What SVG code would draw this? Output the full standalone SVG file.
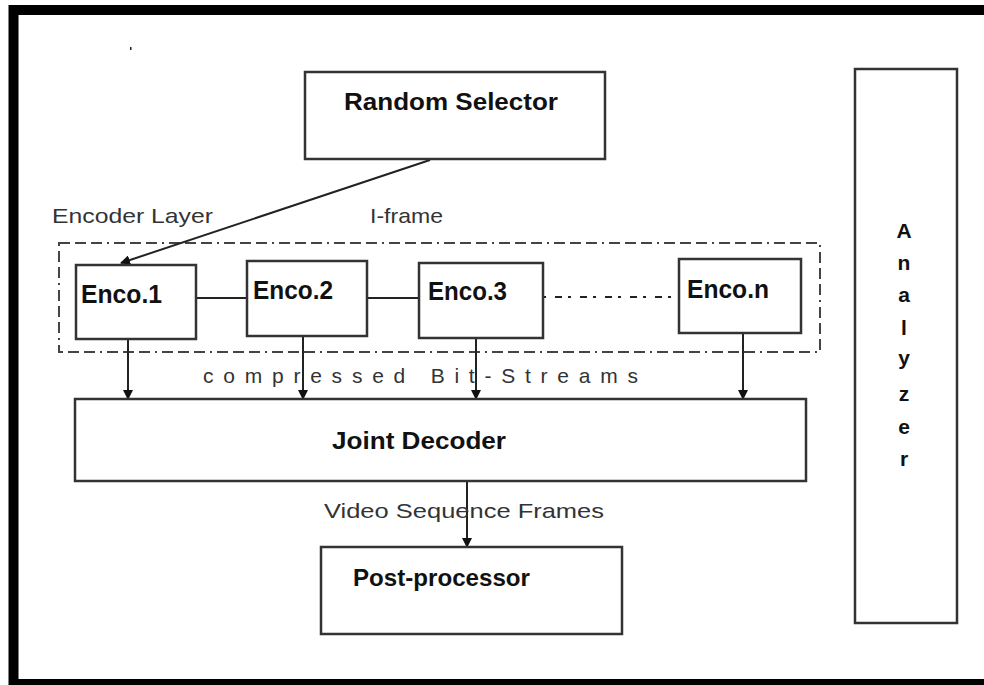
<svg xmlns="http://www.w3.org/2000/svg" width="984" height="685" viewBox="0 0 984 685">
  <style>
    .box { fill: #fff; stroke: #333; stroke-width: 2.5; }
    .line { fill: none; stroke: #222; stroke-width: 2; }
    .lbl { font-family: "Liberation Sans", Arial, sans-serif; font-size: 21px; fill: #333; }
    .bold { font-family: "Liberation Sans", Arial, sans-serif; font-weight: bold; fill: #111; }
  </style>
  <defs>
    <marker id="arrow" viewBox="0 0 10 10" refX="9" refY="5" markerWidth="5" markerHeight="5" orient="auto" markerUnits="strokeWidth">
      <path d="M0,0 L10,5 L0,10 z" fill="#111"/>
    </marker>
  </defs>

  <rect width="984" height="685" fill="#fff"/>
  <!-- outer frame, open on the right -->
  <rect x="13.5" y="10" width="1000" height="674" fill="none" stroke="#000" stroke-width="10"/>
  <rect x="130" y="47" width="1.5" height="3" fill="#222"/>

  <!-- encoder layer boundary -->
  <rect x="59" y="243" width="761" height="109" fill="none" stroke="#444" stroke-width="2" stroke-dasharray="11 5 11 5 11 5 2 5"/>

  <g id="connectors">
    <line class="line" x1="430" y1="160" x2="121" y2="263" marker-end="url(#arrow)"/>
    <line class="line" x1="196" y1="298" x2="247" y2="298"/>
    <line class="line" x1="367" y1="298" x2="419" y2="298"/>
    <line class="line" x1="543" y1="297" x2="679" y2="297" stroke-dasharray="3 9 7 6" stroke-width="2.5" stroke="#444"/>
    <line class="line" x1="128" y1="339" x2="128" y2="399" marker-end="url(#arrow)"/>
    <line class="line" x1="303" y1="336" x2="303" y2="399" marker-end="url(#arrow)"/>
    <line class="line" x1="476" y1="338" x2="476" y2="399" marker-end="url(#arrow)"/>
    <line class="line" x1="743" y1="333" x2="743" y2="399" marker-end="url(#arrow)"/>
    <line class="line" x1="467" y1="481" x2="467" y2="547" marker-end="url(#arrow)"/>
  </g>

  <g id="random-selector">
    <rect class="box" x="305" y="72" width="300" height="87"/>
    <text class="bold" x="344" y="110" font-size="24" textLength="214" lengthAdjust="spacingAndGlyphs">Random Selector</text>
  </g>

  <text class="lbl" x="52" y="223" textLength="161" lengthAdjust="spacingAndGlyphs">Encoder Layer</text>
  <text class="lbl" x="370" y="223" textLength="73" lengthAdjust="spacingAndGlyphs">I-frame</text>

  <g id="enco-1">
    <rect class="box" x="76" y="265" width="120" height="74"/>
    <text class="bold" x="81" y="303" font-size="26" textLength="81" lengthAdjust="spacingAndGlyphs">Enco.1</text>
  </g>
  <g id="enco-2">
    <rect class="box" x="247" y="261" width="120" height="75"/>
    <text class="bold" x="253" y="299" font-size="26" textLength="80" lengthAdjust="spacingAndGlyphs">Enco.2</text>
  </g>
  <g id="enco-3">
    <rect class="box" x="419" y="263" width="124" height="75"/>
    <text class="bold" x="428" y="300" font-size="26" textLength="79" lengthAdjust="spacingAndGlyphs">Enco.3</text>
  </g>
  <g id="enco-n">
    <rect class="box" x="679" y="259" width="122" height="74"/>
    <text class="bold" x="687" y="298" font-size="26" textLength="82" lengthAdjust="spacingAndGlyphs">Enco.n</text>
  </g>

  <text class="lbl" x="203" y="383" textLength="435" lengthAdjust="spacing">compressed Bit-Streams</text>

  <g id="joint-decoder">
    <rect class="box" x="75" y="399" width="731" height="82"/>
    <text class="bold" x="332" y="449" font-size="24" textLength="174" lengthAdjust="spacingAndGlyphs">Joint Decoder</text>
  </g>

  <text class="lbl" x="324" y="518" font-size="22" textLength="280" lengthAdjust="spacingAndGlyphs">Video Sequence Frames</text>

  <g id="post-processor">
    <rect class="box" x="321" y="547" width="301" height="87"/>
    <text class="bold" x="353" y="586" font-size="24" textLength="177" lengthAdjust="spacingAndGlyphs">Post-processor</text>
  </g>

  <g id="analyzer">
    <rect class="box" x="855" y="69" width="102" height="554"/>
    <g class="bold" font-size="21" text-anchor="middle">
      <text x="904" y="238">A</text>
      <text x="904" y="270">n</text>
      <text x="904" y="302">a</text>
      <text x="904" y="335">l</text>
      <text x="904" y="365">y</text>
      <text x="904" y="401">z</text>
      <text x="904" y="434">e</text>
      <text x="904" y="466">r</text>
    </g>
  </g>
</svg>
